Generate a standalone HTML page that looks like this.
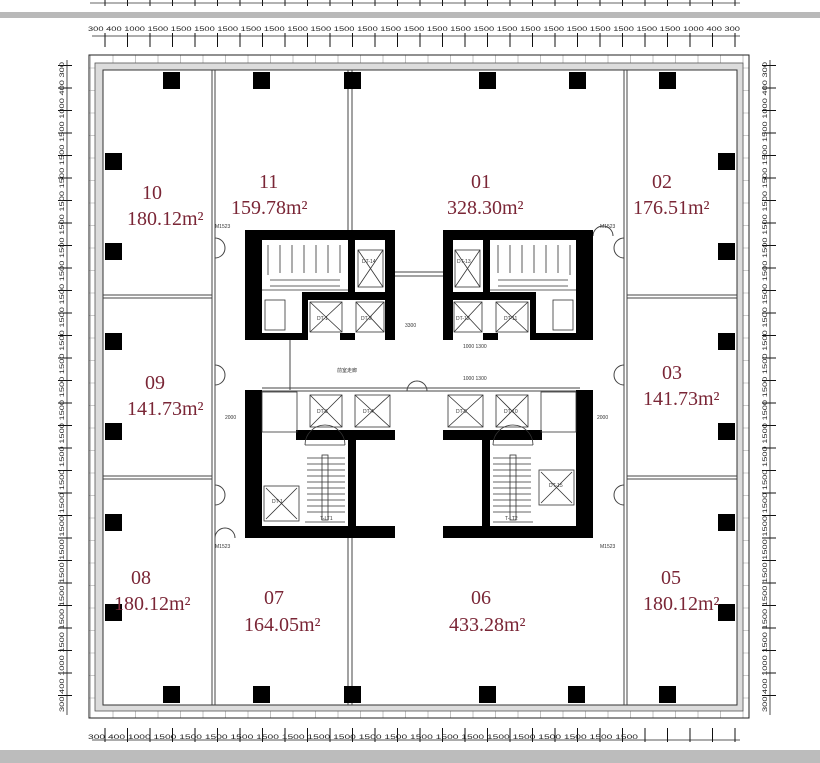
<!DOCTYPE html>
<html><head><meta charset="utf-8"><style>
html,body{margin:0;padding:0;background:#fff;}
svg{display:block}
.lb{font-family:"Liberation Serif",serif;fill:#7a2636;font-size:20px}
.dm{font-family:"Liberation Sans",sans-serif;font-size:6px;fill:#222}
.sm{font-family:"Liberation Sans",sans-serif;font-size:5px;fill:#333}
</style></head><body>
<svg width="820" height="763" viewBox="0 0 820 763" xmlns="http://www.w3.org/2000/svg">
<defs>
<pattern id="th" x="127" y="0" width="22.5" height="20" patternUnits="userSpaceOnUse"><line x1="0.5" y1="0" x2="0.5" y2="20" stroke="#111" stroke-width="1"/></pattern>
<pattern id="tv" x="0" y="110" width="20" height="22.5" patternUnits="userSpaceOnUse"><line x1="0" y1="0.5" x2="20" y2="0.5" stroke="#111" stroke-width="1"/></pattern>
<pattern id="tw" x="0" y="0" width="22.5" height="22.5" patternUnits="userSpaceOnUse"><line x1="0" y1="0.5" x2="22.5" y2="0.5" stroke="#999" stroke-width="0.6"/><line x1="0.5" y1="0" x2="0.5" y2="22.5" stroke="#999" stroke-width="0.6"/></pattern>
</defs>
<rect width="820" height="763" fill="#fff"/>
<rect x="90" y="0" width="650" height="6" fill="url(#th)"/>
<line x1="90" y1="3" x2="740" y2="3" stroke="#333" stroke-width="0.8"/>
<rect x="0" y="12" width="820" height="6" fill="#b9b9b9"/>
<rect x="0" y="750" width="820" height="13" fill="#bcbcbc"/>
<rect x="92" y="33" width="648" height="14" fill="url(#th)"/>
<line x1="92" y1="36" x2="740" y2="36" stroke="#222" stroke-width="0.8"/>
<text class="dm" x="88" y="31" textLength="652" lengthAdjust="spacingAndGlyphs">300 400 1000 1500 1500 1500 1500 1500 1500 1500 1500 1500 1500 1500 1500 1500 1500 1500 1500 1500 1500 1500 1500 1500 1500 1500 1000 400 300</text>
<rect x="92" y="728" width="648" height="14" fill="url(#th)"/>
<line x1="92" y1="740" x2="740" y2="740" stroke="#222" stroke-width="0.8"/>
<text class="dm" x="88" y="739" textLength="550" lengthAdjust="spacingAndGlyphs">300 400 1000 1500 1500 1500 1500 1500 1500 1500 1500 1500 1500 1500 1500 1500 1500 1500 1500 1500 1500 1500</text>
<rect x="58" y="60" width="14" height="655" fill="url(#tv)"/>
<line x1="67" y1="60" x2="67" y2="715" stroke="#222" stroke-width="0.8"/>
<text class="dm" transform="translate(64,712) rotate(-90)" textLength="650" lengthAdjust="spacingAndGlyphs">300 400 1000 1500 1500 1500 1500 1500 1500 1500 1500 1500 1500 1500 1500 1500 1500 1500 1500 1500 1500 1500 1500 1500 1500 1500 1000 400 300</text>
<rect x="762" y="60" width="14" height="655" fill="url(#tv)"/>
<line x1="770" y1="60" x2="770" y2="715" stroke="#222" stroke-width="0.8"/>
<text class="dm" transform="translate(767,712) rotate(-90)" textLength="650" lengthAdjust="spacingAndGlyphs">300 400 1000 1500 1500 1500 1500 1500 1500 1500 1500 1500 1500 1500 1500 1500 1500 1500 1500 1500 1500 1500 1500 1500 1500 1500 1000 400 300</text>
<rect x="89" y="55" width="660" height="663" fill="url(#tw)" stroke="#222" stroke-width="1"/>
<rect x="95" y="63" width="648" height="648" fill="#dcdcdc" stroke="#555" stroke-width="0.8"/>
<rect x="103" y="70" width="634" height="635" fill="#fff" stroke="#333" stroke-width="1"/>
<g stroke="#444" stroke-width="1" fill="none">
<line x1="212" y1="70" x2="212" y2="705"/><line x1="215" y1="70" x2="215" y2="705"/>
<line x1="624" y1="70" x2="624" y2="705"/><line x1="627" y1="70" x2="627" y2="705"/>
<line x1="348" y1="70" x2="348" y2="230"/><line x1="352" y1="70" x2="352" y2="230"/>
<line x1="348" y1="538" x2="348" y2="705"/><line x1="352" y1="538" x2="352" y2="705"/>
<line x1="103" y1="295" x2="212" y2="295"/><line x1="103" y1="298" x2="212" y2="298"/>
<line x1="103" y1="476" x2="212" y2="476"/><line x1="103" y1="479" x2="212" y2="479"/>
<line x1="627" y1="295" x2="737" y2="295"/><line x1="627" y1="298" x2="737" y2="298"/>
<line x1="627" y1="476" x2="737" y2="476"/><line x1="627" y1="479" x2="737" y2="479"/>
<line x1="395" y1="272" x2="443" y2="272"/><line x1="395" y1="276" x2="443" y2="276"/>
<line x1="262" y1="388" x2="580" y2="388"/><line x1="262" y1="391" x2="580" y2="391"/>
<line x1="290" y1="340" x2="290" y2="390"/>
<path d="M215 238 a10 10 0 0 1 10 10 M215 258 a10 10 0 0 0 10 -10"/>
<path d="M215 365 a10 10 0 0 1 10 10 M215 385 a10 10 0 0 0 10 -10"/>
<path d="M215 485 a10 10 0 0 1 10 10 M215 505 a10 10 0 0 0 10 -10"/>
<path d="M215 538 a10 10 0 0 1 10 -10 M235 538 a10 10 0 0 0 -10 -10"/>
<path d="M624 238 a10 10 0 0 0 -10 10 M624 258 a10 10 0 0 1 -10 -10"/>
<path d="M624 365 a10 10 0 0 0 -10 10 M624 385 a10 10 0 0 1 -10 -10"/>
<path d="M624 485 a10 10 0 0 0 -10 10 M624 505 a10 10 0 0 1 -10 -10"/>
<path d="M593 236 a10 10 0 0 1 10 -10 M613 236 a10 10 0 0 0 -10 -10"/>
<path d="M407 391 a10 10 0 0 1 10 -10 M427 391 a10 10 0 0 0 -10 -10"/>
</g>
<g fill="#000">
<rect x="163" y="72" width="17" height="17"/><rect x="253" y="72" width="17" height="17"/><rect x="344" y="72" width="17" height="17"/><rect x="479" y="72" width="17" height="17"/><rect x="569" y="72" width="17" height="17"/><rect x="659" y="72" width="17" height="17"/>
<rect x="163" y="686" width="17" height="17"/><rect x="253" y="686" width="17" height="17"/><rect x="344" y="686" width="17" height="17"/><rect x="479" y="686" width="17" height="17"/><rect x="568" y="686" width="17" height="17"/><rect x="659" y="686" width="17" height="17"/>
<rect x="105" y="153" width="17" height="17"/><rect x="105" y="243" width="17" height="17"/><rect x="105" y="333" width="17" height="17"/><rect x="105" y="423" width="17" height="17"/><rect x="105" y="514" width="17" height="17"/><rect x="105" y="604" width="17" height="17"/>
<rect x="718" y="153" width="17" height="17"/><rect x="718" y="243" width="17" height="17"/><rect x="718" y="333" width="17" height="17"/><rect x="718" y="423" width="17" height="17"/><rect x="718" y="514" width="17" height="17"/><rect x="718" y="604" width="17" height="17"/>
</g>
<g>
<rect x="245" y="230" width="150" height="10" fill="#000"/>
<rect x="245" y="230" width="17" height="110" fill="#000"/>
<rect x="245" y="333" width="58" height="7" fill="#000"/>
<rect x="348" y="240" width="7" height="58" fill="#000"/>
<rect x="302" y="292" width="93" height="8" fill="#000"/>
<rect x="385" y="230" width="10" height="110" fill="#000"/>
<rect x="302" y="300" width="6" height="40" fill="#000"/>
<rect x="340" y="333" width="15" height="7" fill="#000"/>
<g stroke="#333" stroke-width="0.8" fill="none">
<rect x="310" y="302" width="32" height="30"/><path d="M310 302 L342 332 M342 302 L310 332"/>
<rect x="356" y="302" width="28" height="30"/><path d="M356 302 L384 332 M384 302 L356 332"/>
<rect x="358" y="250" width="25" height="37"/><path d="M358 250 L383 287 M383 250 L358 287"/>
<line x1="262" y1="290" x2="348" y2="290"/>
<path d="M268 245 v30 M280 245 v28 M292 245 v28 M304 245 v28 M316 245 v28 M328 245 v28 M340 245 v28"/>
<path d="M270 280 h70 M270 286 h70"/>
<rect x="265" y="300" width="20" height="30"/>
</g>
</g>
<g transform="translate(838,0) scale(-1,1)">
<rect x="245" y="230" width="150" height="10" fill="#000"/>
<rect x="245" y="230" width="17" height="110" fill="#000"/>
<rect x="245" y="333" width="58" height="7" fill="#000"/>
<rect x="348" y="240" width="7" height="58" fill="#000"/>
<rect x="302" y="292" width="93" height="8" fill="#000"/>
<rect x="385" y="230" width="10" height="110" fill="#000"/>
<rect x="302" y="300" width="6" height="40" fill="#000"/>
<rect x="340" y="333" width="15" height="7" fill="#000"/>
<g stroke="#333" stroke-width="0.8" fill="none">
<rect x="310" y="302" width="32" height="30"/><path d="M310 302 L342 332 M342 302 L310 332"/>
<rect x="356" y="302" width="28" height="30"/><path d="M356 302 L384 332 M384 302 L356 332"/>
<rect x="358" y="250" width="25" height="37"/><path d="M358 250 L383 287 M383 250 L358 287"/>
<line x1="262" y1="290" x2="348" y2="290"/>
<path d="M268 245 v30 M280 245 v28 M292 245 v28 M304 245 v28 M316 245 v28 M328 245 v28 M340 245 v28"/>
<path d="M270 280 h70 M270 286 h70"/>
<rect x="265" y="300" width="20" height="30"/>
</g>
</g>
<g>
<rect x="245" y="390" width="17" height="148" fill="#000"/>
<rect x="245" y="526" width="150" height="12" fill="#000"/>
<rect x="348" y="432" width="8" height="106" fill="#000"/>
<rect x="296" y="430" width="99" height="10" fill="#000"/>
<g stroke="#333" stroke-width="0.8" fill="none">
<rect x="310" y="395" width="32" height="32"/><path d="M310 395 L342 427 M342 395 L310 427"/>
<rect x="355" y="395" width="35" height="32"/><path d="M355 395 L390 427 M390 395 L355 427"/>
<rect x="262" y="392" width="35" height="40"/>
<rect x="264" y="486" width="35" height="35"/><path d="M266 488 L297 519 M297 488 L266 519"/>
<path d="M305 445 h40 M305 522 h40 M305 445 a20 20 0 0 1 40 0"/>
<path d="M307 458 h38 M307 464 h38 M307 470 h38 M307 476 h38 M307 482 h38 M307 488 h38 M307 494 h38 M307 500 h38 M307 506 h38 M307 512 h38"/>
<rect x="322" y="455" width="6" height="65"/>
</g>
</g>
<g transform="translate(838,0) scale(-1,1)">
<rect x="245" y="390" width="17" height="148" fill="#000"/>
<rect x="245" y="526" width="150" height="12" fill="#000"/>
<rect x="348" y="432" width="8" height="106" fill="#000"/>
<rect x="296" y="430" width="99" height="10" fill="#000"/>
<g stroke="#333" stroke-width="0.8" fill="none">
<rect x="310" y="395" width="32" height="32"/><path d="M310 395 L342 427 M342 395 L310 427"/>
<rect x="355" y="395" width="35" height="32"/><path d="M355 395 L390 427 M390 395 L355 427"/>
<rect x="262" y="392" width="35" height="40"/>
<rect x="264" y="470" width="35" height="35"/><path d="M266 472 L297 503 M297 472 L266 503"/>
<path d="M305 445 h40 M305 522 h40 M305 445 a20 20 0 0 1 40 0"/>
<path d="M307 458 h38 M307 464 h38 M307 470 h38 M307 476 h38 M307 482 h38 M307 488 h38 M307 494 h38 M307 500 h38 M307 506 h38 M307 512 h38"/>
<rect x="322" y="455" width="6" height="65"/>
</g>
</g>
<g class="sm">
<text x="317" y="320">DT-1</text><text x="361" y="320">DT-2</text><text x="362" y="263">DT-14</text>
<text x="457" y="263">DT-13</text><text x="456" y="320">DT-12</text><text x="504" y="320">DT-11</text>
<text x="317" y="413">DT-3</text><text x="363" y="413">DT-4</text><text x="456" y="413">DT-9</text><text x="504" y="413">DT-10</text>
<text x="272" y="503">DT-1</text><text x="549" y="487">DT-15</text>
<text x="320" y="520">T-LT1</text><text x="505" y="520">T-LT2</text>
<text x="337" y="372">前室走廊</text><text x="463" y="348">1000 1300</text><text x="463" y="380">1000 1300</text>
<text x="405" y="327">3300</text><text x="225" y="419">2000</text><text x="597" y="419">2000</text>
<text x="215" y="228">M1523</text><text x="600" y="228">M1523</text><text x="215" y="548">M1523</text><text x="600" y="548">M1523</text>
</g>
<g class="lb">
<text x="142" y="199">10</text><text x="127" y="225">180.12m²</text>
<text x="259" y="188">11</text><text x="231" y="214">159.78m²</text>
<text x="471" y="188">01</text><text x="447" y="214">328.30m²</text>
<text x="652" y="188">02</text><text x="633" y="214">176.51m²</text>
<text x="145" y="389">09</text><text x="127" y="415">141.73m²</text>
<text x="662" y="379">03</text><text x="643" y="405">141.73m²</text>
<text x="131" y="584">08</text><text x="114" y="610">180.12m²</text>
<text x="264" y="604">07</text><text x="244" y="631">164.05m²</text>
<text x="471" y="604">06</text><text x="449" y="631">433.28m²</text>
<text x="661" y="584">05</text><text x="643" y="610">180.12m²</text>
</g>
</svg>
</body></html>
